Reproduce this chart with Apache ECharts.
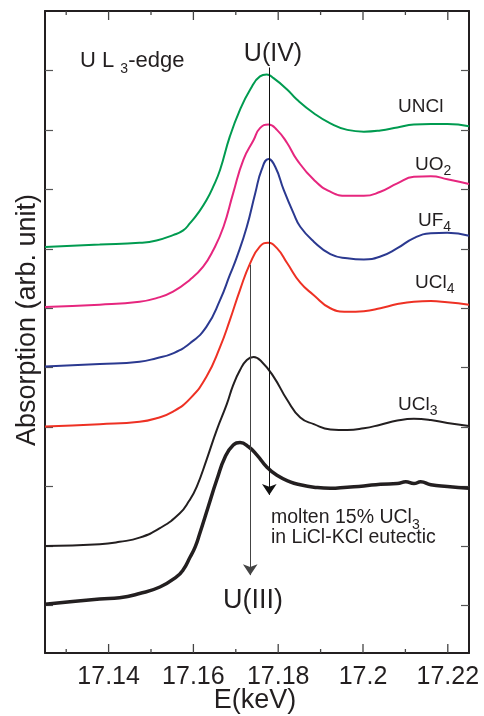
<!DOCTYPE html>
<html lang="en">
<head>
    <meta charset="UTF-8">
    <script src="https://cdn.jsdelivr.net/npm/echarts@6/dist/echarts.min.js"></script>
    <title>U L3-edge XANES</title>
    <style>
        html, body { margin: 0; padding: 0; background: #fff; }
        #main { width: 484px; height: 716px; }
    </style>
</head>
<body>
<div id="main"></div>
<script>
    // [E (keV), absorption + offset]
    let uncl = [[17.125,6.03],[17.1379,6.07],[17.1473,6.10],[17.1513,6.14],[17.1552,6.23],[17.1576,6.31],[17.1592,6.43],[17.1611,6.60],[17.1631,6.82],[17.1647,7.05],[17.1663,7.33],[17.1686,7.89],[17.1710,8.34],[17.1734,8.68],[17.1757,8.90],[17.1773,8.93],[17.1789,8.87],[17.1821,8.68],[17.1844,8.51],[17.1884,8.28],[17.1923,8.11],[17.1963,8.00],[17.2002,7.97],[17.2041,7.99],[17.2081,8.04],[17.2120,8.09],[17.2160,8.10],[17.2199,8.10],[17.225,8.06]];
    let uo2 = [[17.125,5.02],[17.1379,5.06],[17.1473,5.11],[17.1513,5.17],[17.1552,5.28],[17.1592,5.48],[17.1623,5.70],[17.1647,5.98],[17.1671,6.37],[17.1694,6.94],[17.1718,7.50],[17.1742,7.83],[17.1757,8.03],[17.1777,8.09],[17.1797,8.00],[17.1821,7.78],[17.1844,7.50],[17.1884,7.16],[17.1923,6.96],[17.1963,6.89],[17.2002,6.89],[17.2041,6.96],[17.2081,7.10],[17.2120,7.21],[17.2160,7.22],[17.2199,7.17],[17.225,7.09]];
    let uf4 = [[17.125,4.02],[17.1379,4.06],[17.1473,4.10],[17.1513,4.16],[17.1552,4.24],[17.1592,4.41],[17.1631,4.69],[17.1663,5.14],[17.1686,5.56],[17.1702,5.85],[17.1726,6.37],[17.1746,6.94],[17.1761,7.33],[17.1777,7.51],[17.1793,7.38],[17.1813,6.99],[17.1836,6.60],[17.1852,6.37],[17.1884,6.12],[17.1923,5.91],[17.1963,5.84],[17.2002,5.82],[17.2041,5.87],[17.2081,6.01],[17.2120,6.18],[17.2160,6.26],[17.2199,6.27],[17.225,6.22]];
    let ucl4 = [[17.125,3.01],[17.1379,3.05],[17.1473,3.09],[17.1513,3.15],[17.1552,3.26],[17.1592,3.48],[17.1631,3.85],[17.1663,4.35],[17.1686,4.80],[17.1710,5.31],[17.1734,5.76],[17.1757,6.04],[17.1776,6.10],[17.1797,6.01],[17.1821,5.76],[17.1852,5.43],[17.1884,5.22],[17.1923,5.00],[17.1963,4.94],[17.2002,4.95],[17.2041,5.00],[17.2081,5.07],[17.2120,5.11],[17.2160,5.12],[17.2199,5.10],[17.225,5.06]];
    let ucl3 = [[17.125,1.00],[17.1379,1.03],[17.1426,1.07],[17.1473,1.14],[17.1521,1.30],[17.1568,1.55],[17.1590,1.76],[17.1608,2.00],[17.1631,2.45],[17.1655,2.95],[17.1679,3.39],[17.1694,3.71],[17.1710,3.96],[17.1726,4.13],[17.1742,4.18],[17.1761,4.10],[17.1789,3.85],[17.1821,3.46],[17.1852,3.16],[17.1884,3.05],[17.1923,2.96],[17.1963,2.95],[17.2002,2.98],[17.2041,3.04],[17.2081,3.11],[17.2120,3.14],[17.2160,3.12],[17.2199,3.07],[17.225,3.02]];
    let molten = [[17.125,0.02],[17.1379,0.11],[17.1426,0.13],[17.1473,0.20],[17.1521,0.31],[17.1560,0.48],[17.1576,0.60],[17.1592,0.81],[17.1604,0.98],[17.1615,1.21],[17.1635,1.66],[17.1655,2.11],[17.1675,2.50],[17.1694,2.70],[17.1710,2.74],[17.1730,2.67],[17.1750,2.53],[17.1773,2.33],[17.1797,2.19],[17.1828,2.08],[17.1852,2.03],[17.1884,1.99],[17.1923,1.97],[17.1963,1.99],[17.2002,2.01],[17.2041,2.04],[17.2081,2.05],[17.2101,2.08],[17.2120,2.05],[17.2136,2.08],[17.2160,2.03],[17.2199,2.00],[17.225,1.97]];

    // arrows: [E, y start, y end]
    let arrowIV = [17.1779, 9.05, 1.86];
    let arrowIII = [17.1734, 5.73, 0.51];

    let majorE = [17.14, 17.16, 17.18, 17.2, 17.22];
    let minorE = [17.13, 17.15, 17.17, 17.19, 17.21];
    let yTicks = [0, 1, 2, 3, 4, 5, 6, 7, 8, 9];
    let yMin = -0.8, yMax = 10;

    let font = '"Liberation Sans", Arial, Helvetica, sans-serif';
    let ink = '#231f20';

    let myChart = echarts.init(document.getElementById('main'));

    function xAx(pos, labels) {
        return {
            type: 'value', position: pos, min: 17.125, max: 17.225,
            axisLine: { show: true, onZero: false, lineStyle: { color: ink, width: 2 } },
            axisTick: { show: false },
            axisLabel: labels ? {
                show: true, customValues: majorE, margin: 12,
                fontFamily: font, fontSize: 25, color: ink
            } : { show: false },
            splitLine: { show: false }
        };
    }
    function yAx(pos) {
        return {
            type: 'value', position: pos, min: yMin, max: yMax,
            axisLine: { show: true, onZero: false, lineStyle: { color: ink, width: 2 } },
            axisTick: { show: true, inside: true, length: 8, customValues: yTicks, lineStyle: { color: '#555', width: 1.2 } },
            axisLabel: { show: false },
            splitLine: { show: false }
        };
    }
    function curve(name, data, color, width) {
        return {
            name: name, type: 'line', data: data, showSymbol: false, smooth: 0.5,
            lineStyle: { color: color, width: width }, silent: true
        };
    }
    function arrow(a, color) {
        return [{ coord: [a[0], a[1]], lineStyle: { color: color } }, { coord: [a[0], a[2]] }];
    }

    let sub = { fontSize: 14, fontFamily: font, fill: ink, verticalAlign: 'bottom', padding: [0, 0, -4, 0] };
    function label(x, y, text, size, align) {
        return {
            type: 'text', x: x, y: y,
            style: {
                text: text, fontFamily: font, fontSize: size, fill: ink,
                align: align || 'left', verticalAlign: 'middle',
                rich: { s: sub, n: { fontSize: size, fontFamily: font, fill: ink } }
            }
        };
    }

    let molt = curve('molten', molten, ink, 3.5);
    molt.markLine = {
        silent: true, animation: false,
        symbol: ['none', 'arrow'], symbolSize: 11,
        label: { show: false },
        lineStyle: { type: 'solid', width: 1 },
        data: [arrow(arrowIV, '#111'), arrow(arrowIII, '#444')]
    };

    let texts = [
        label(80, 61, '{n|U L }{s|3}{n|-edge}', 22),
        label(273, 54, 'U(IV)', 25, 'center'),
        label(398, 107, 'UNCl', 19),
        label(415, 165, '{n|UO}{s|2}', 19),
        label(418, 221, '{n|UF}{s|4}', 19),
        label(415, 283, '{n|UCl}{s|4}', 19),
        label(398, 405, '{n|UCl}{s|3}', 19),
        label(271, 518, '{n|molten 15% UCl}{s|3}', 19.5),
        label(271, 538, 'in LiCl-KCl eutectic', 19.5),
        label(253, 601, 'U(III)', 27, 'center'),
        label(255, 701, 'E(keV)', 27, 'center'),
        {
            type: 'text', x: 28, y: 320, rotation: Math.PI / 2,
            style: {
                text: 'Absorption (arb. unit)', fontFamily: font, fontSize: 27, fill: ink,
                align: 'center', verticalAlign: 'middle'
            }
        }
    ];

    let option = {
        animation: false,
        grid: { left: 45, right: 15, top: 11, bottom: 63 },
        xAxis: [xAx('bottom', true), xAx('top', false)],
        yAxis: [yAx('left'), yAx('right')],
        series: [
            curve('UNCl', uncl, '#009b50', 2),
            curve('UO2', uo2, '#e6267e', 2),
            curve('UF4', uf4, '#2b3990', 2),
            curve('UCl4', ucl4, '#ee3124', 2),
            curve('UCl3', ucl3, ink, 2),
            molt
        ],
        graphic: texts
    };

    myChart.setOption(option);

    // x ticks on the bottom and top frame, placed through the chart's own scales
    let tickEls = [];
    function addTicks(values, len) {
        values.forEach(v => {
            let b = myChart.convertToPixel({ gridIndex: 0 }, [v, yMin]);
            let t = myChart.convertToPixel({ gridIndex: 0 }, [v, yMax]);
            let st = { stroke: '#444', lineWidth: 1.3 };
            tickEls.push({ type: 'line', z: 100, silent: true, shape: { x1: b[0], y1: b[1], x2: b[0], y2: b[1] - len }, style: st });
            tickEls.push({ type: 'line', z: 100, silent: true, shape: { x1: t[0], y1: t[1], x2: t[0], y2: t[1] + len }, style: st });
        });
    }
    addTicks(majorE, 9);
    addTicks(minorE, 4);
    myChart.setOption({ graphic: texts.concat(tickEls) });
</script>
</body>
</html>
